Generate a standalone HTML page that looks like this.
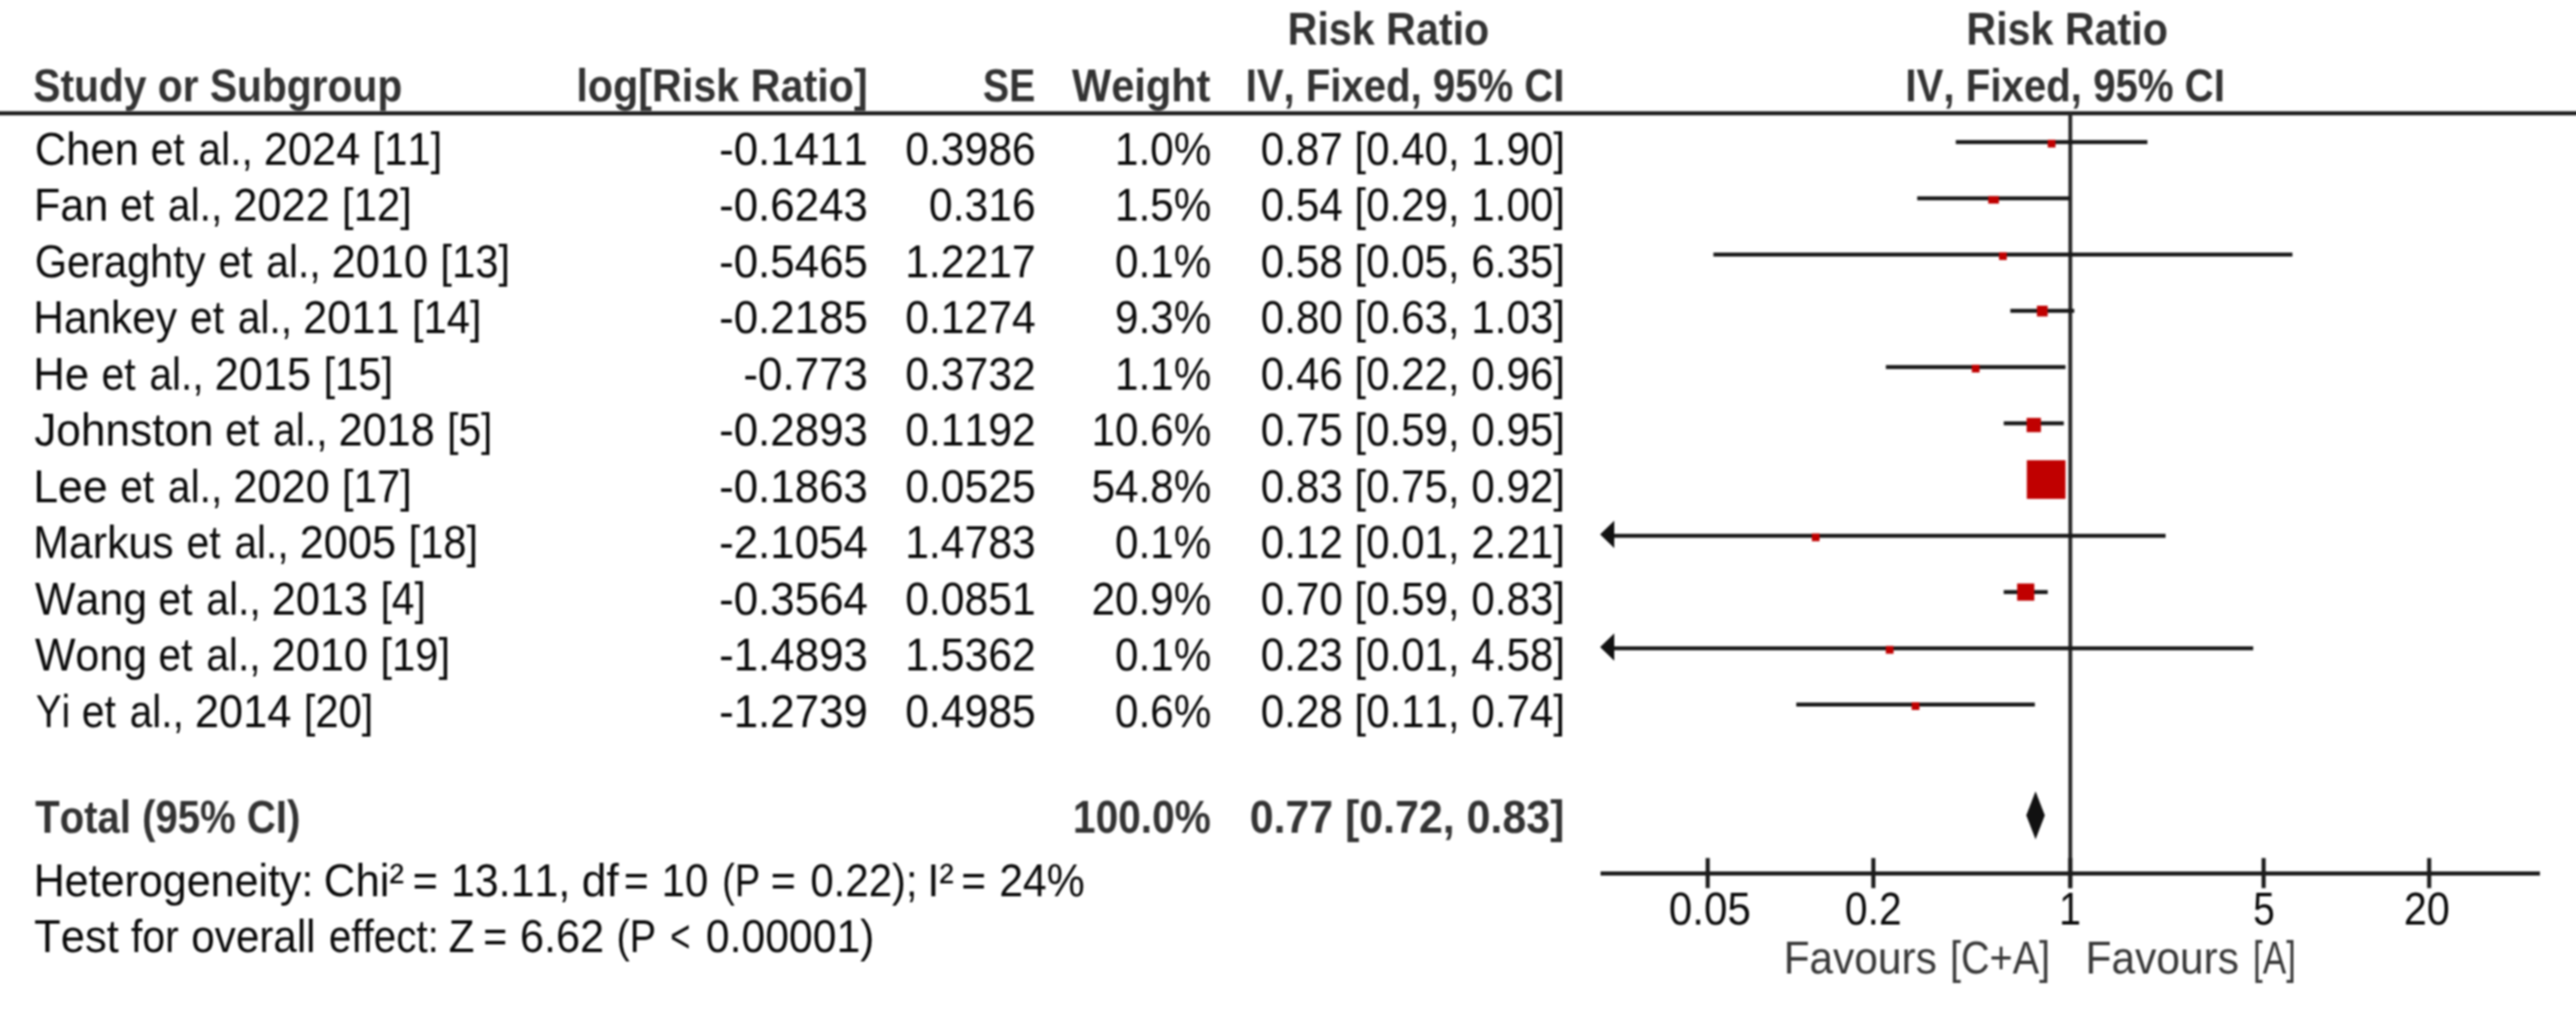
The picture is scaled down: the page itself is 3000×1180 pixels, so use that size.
<!DOCTYPE html>
<html><head><meta charset="utf-8"><title>Forest plot</title>
<style>
html,body{margin:0;padding:0;background:#fff}
#wrap{position:relative;width:3000px;height:1180px;overflow:hidden}
svg{display:block;position:absolute;left:-20px;top:-20px;filter:blur(1.2px)}
text{font-family:"Liberation Sans",sans-serif;white-space:pre;font-kerning:none;font-variant-ligatures:none}
</style></head><body>
<div id="wrap"><svg width="3040" height="1220" viewBox="-20 -20 3040 1220">
<rect x="-20" y="-20" width="3040" height="1220" fill="#ffffff"/>
<g id="gfx">
<rect x="-20.00" y="129.60" width="3040.00" height="4.70" fill="#1c1c1c"/>
<rect x="2408.80" y="132.00" width="4.50" height="902.50" fill="#2a2a2a"/>
<rect x="1864.00" y="1015.10" width="1094.00" height="4.80" fill="#1c1c1c"/>
<rect x="1986.40" y="999.50" width="4.80" height="35.00" fill="#1c1c1c"/>
<rect x="2179.30" y="999.50" width="4.80" height="35.00" fill="#1c1c1c"/>
<rect x="2408.60" y="999.50" width="4.80" height="35.00" fill="#1c1c1c"/>
<rect x="2633.80" y="999.50" width="4.80" height="35.00" fill="#1c1c1c"/>
<rect x="2826.60" y="999.50" width="4.80" height="35.00" fill="#1c1c1c"/>
<rect x="2277.72" y="163.20" width="223.11" height="4.60" fill="#181818"/>
<rect x="2384.77" y="162.80" width="9.00" height="9.00" fill="#c00000"/>
<rect x="2232.78" y="228.72" width="177.83" height="4.60" fill="#181818"/>
<rect x="2315.50" y="228.47" width="12.40" height="8.70" fill="#c00000"/>
<rect x="1995.42" y="294.24" width="674.32" height="4.60" fill="#181818"/>
<rect x="2328.08" y="293.84" width="9.00" height="9.00" fill="#c00000"/>
<rect x="2341.23" y="359.76" width="74.44" height="4.60" fill="#181818"/>
<rect x="2372.19" y="356.11" width="12.50" height="12.50" fill="#c00000"/>
<rect x="2196.31" y="425.28" width="209.18" height="4.60" fill="#181818"/>
<rect x="2296.40" y="424.88" width="9.00" height="9.00" fill="#c00000"/>
<rect x="2333.57" y="490.80" width="69.94" height="4.60" fill="#181818"/>
<rect x="2360.24" y="486.80" width="16.60" height="16.60" fill="#c00000"/>
<rect x="2366.26" y="556.32" width="33.38" height="4.60" fill="#181818"/>
<rect x="2360.45" y="536.12" width="45.00" height="45.00" fill="#c00000"/>
<rect x="1869.70" y="621.84" width="652.37" height="4.60" fill="#181818"/>
<polygon points="1863.5,622.6 1880.0,606.6 1880.0,638.6" fill="#111"/>
<rect x="2110.07" y="621.44" width="9.00" height="9.00" fill="#c00000"/>
<rect x="2333.53" y="687.36" width="51.25" height="4.60" fill="#181818"/>
<rect x="2349.16" y="679.66" width="20.00" height="20.00" fill="#c00000"/>
<rect x="1869.70" y="752.88" width="754.39" height="4.60" fill="#181818"/>
<polygon points="1863.5,753.7 1880.0,737.7 1880.0,769.7" fill="#111"/>
<rect x="2196.23" y="752.48" width="9.00" height="9.00" fill="#c00000"/>
<rect x="2091.92" y="818.40" width="277.87" height="4.60" fill="#181818"/>
<rect x="2226.35" y="818.00" width="9.00" height="9.00" fill="#c00000"/>
<polygon points="2359.8,949.8 2370.6,921.8 2381.4,949.8 2370.6,977.8" fill="#111"/>
</g>
<g id="txt">
<text transform="translate(38.76 118.00) scale(0.8872 1)" font-size="53.5" fill="#333333" font-weight="bold">Study or Subgroup</text>
<text transform="translate(671.19 118.00) scale(0.8988 1)" font-size="53.5" fill="#333333" font-weight="bold">log[Risk Ratio]</text>
<text transform="translate(1144.79 118.00) scale(0.8536 1)" font-size="53.5" fill="#333333" font-weight="bold">SE</text>
<text transform="translate(1248.50 118.00) scale(0.9038 1)" font-size="53.5" fill="#333333" font-weight="bold">Weight</text>
<text transform="translate(1499.60 52.30) scale(0.8974 1)" font-size="53.5" fill="#333333" font-weight="bold">Risk Ratio</text>
<text transform="translate(1450.68 118.00) scale(0.8732 1)" font-size="53.5" fill="#333333" font-weight="bold">IV, Fixed, 95% CI</text>
<text transform="translate(2290.00 52.30) scale(0.8974 1)" font-size="53.5" fill="#333333" font-weight="bold">Risk Ratio</text>
<text transform="translate(2219.07 118.00) scale(0.8754 1)" font-size="53.5" fill="#333333" font-weight="bold">IV, Fixed, 95% CI</text>
<text transform="translate(40.90 970.00) scale(0.8735 1)" font-size="53.5" fill="#333333" font-weight="bold">Total (95% CI)</text>
<text transform="translate(1249.54 970.00) scale(0.8858 1)" font-size="53.5" fill="#333333" font-weight="bold">100.0%</text>
<text transform="translate(1455.44 970.00) scale(0.9334 1)" font-size="53.5" fill="#333333" font-weight="bold">0.77 [0.72, 0.83]</text>
<text transform="translate(39.18 1043.90) scale(0.9281 1)" font-size="54.0" fill="#0a0a0a">Heterogeneity:</text>
<text transform="translate(377.11 1043.90) scale(0.9437 1)" font-size="54.0" fill="#0a0a0a">Chi²</text>
<text transform="translate(480.53 1043.90) scale(0.9370 1)" font-size="54.0" fill="#0a0a0a">=</text>
<text transform="translate(525.28 1043.90) scale(0.9242 1)" font-size="54.0" fill="#0a0a0a">13.11,</text>
<text transform="translate(677.38 1043.90) scale(0.9579 1)" font-size="54.0" fill="#0a0a0a">df</text>
<text transform="translate(726.38 1043.90) scale(0.9185 1)" font-size="54.0" fill="#0a0a0a">=</text>
<text transform="translate(770.55 1043.90) scale(0.9034 1)" font-size="54.0" fill="#0a0a0a">10</text>
<text transform="translate(840.92 1043.90) scale(0.8211 1)" font-size="54.0" fill="#0a0a0a">(P</text>
<text transform="translate(897.44 1043.90) scale(0.9333 1)" font-size="54.0" fill="#0a0a0a">=</text>
<text transform="translate(943.67 1043.90) scale(0.9058 1)" font-size="54.0" fill="#0a0a0a">0.22);</text>
<text transform="translate(1080.08 1043.90) scale(0.9297 1)" font-size="54.0" fill="#0a0a0a">I²</text>
<text transform="translate(1119.58 1043.90) scale(0.9148 1)" font-size="54.0" fill="#0a0a0a">=</text>
<text transform="translate(1163.66 1043.90) scale(0.9227 1)" font-size="54.0" fill="#0a0a0a">24%</text>
<text transform="translate(39.81 1108.80) scale(0.9381 1)" font-size="54.0" fill="#0a0a0a">Test</text>
<text transform="translate(152.40 1108.80) scale(0.8844 1)" font-size="54.0" fill="#0a0a0a">for</text>
<text transform="translate(222.76 1108.80) scale(0.9101 1)" font-size="54.0" fill="#0a0a0a">overall</text>
<text transform="translate(383.03 1108.80) scale(0.8711 1)" font-size="54.0" fill="#0a0a0a">effect:</text>
<text transform="translate(522.56 1108.80) scale(0.9119 1)" font-size="54.0" fill="#0a0a0a">Z</text>
<text transform="translate(562.76 1108.80) scale(0.8852 1)" font-size="54.0" fill="#0a0a0a">=</text>
<text transform="translate(605.43 1108.80) scale(0.9354 1)" font-size="54.0" fill="#0a0a0a">6.62</text>
<text transform="translate(717.93 1108.80) scale(0.8577 1)" font-size="54.0" fill="#0a0a0a">(P</text>
<text transform="translate(780.61 1108.80) scale(0.7481 1)" font-size="54.0" fill="#0a0a0a">&lt;</text>
<text transform="translate(822.05 1108.80) scale(0.9214 1)" font-size="54.0" fill="#0a0a0a">0.00001)</text>
<text transform="translate(1943.47 1076.70) scale(0.9089 1)" font-size="54.0" fill="#0a0a0a">0.05</text>
<text transform="translate(2148.51 1076.70) scale(0.8807 1)" font-size="54.0" fill="#0a0a0a">0.2</text>
<text transform="translate(2624.09 1076.70) scale(0.8373 1)" font-size="54.0" fill="#0a0a0a">5</text>
<text transform="translate(2799.54 1076.70) scale(0.8916 1)" font-size="54.0" fill="#0a0a0a">20</text>
<text transform="translate(2077.14 1133.70) scale(0.9156 1)" font-size="54.0" fill="#383838">Favours</text>
<text transform="translate(2270.92 1133.70) scale(0.8547 1)" font-size="54.0" fill="#383838">[C+A]</text>
<text transform="translate(2428.73 1133.70) scale(0.9167 1)" font-size="54.0" fill="#383838">Favours</text>
<text transform="translate(2623.85 1133.70) scale(0.7568 1)" font-size="54.0" fill="#383838">[A]</text>
<text transform="translate(40.52 191.80) scale(0.9390 1)" font-size="54.0" fill="#0a0a0a">Chen</text>
<text transform="translate(175.42 191.80) scale(0.8798 1)" font-size="54.0" fill="#0a0a0a">et</text>
<text transform="translate(231.12 191.80) scale(0.8792 1)" font-size="54.0" fill="#0a0a0a">al.,</text>
<text transform="translate(433.86 191.80) scale(0.9017 1)" font-size="54.0" fill="#0a0a0a">[11]</text>
<text transform="translate(39.57 257.32) scale(0.9312 1)" font-size="54.0" fill="#0a0a0a">Fan</text>
<text transform="translate(139.92 257.32) scale(0.8798 1)" font-size="54.0" fill="#0a0a0a">et</text>
<text transform="translate(195.62 257.32) scale(0.8792 1)" font-size="54.0" fill="#0a0a0a">al.,</text>
<text transform="translate(398.36 257.32) scale(0.9017 1)" font-size="54.0" fill="#0a0a0a">[12]</text>
<text transform="translate(40.43 322.84) scale(0.8958 1)" font-size="54.0" fill="#0a0a0a">Geraghty</text>
<text transform="translate(254.42 322.84) scale(0.8798 1)" font-size="54.0" fill="#0a0a0a">et</text>
<text transform="translate(310.12 322.84) scale(0.8792 1)" font-size="54.0" fill="#0a0a0a">al.,</text>
<text transform="translate(512.86 322.84) scale(0.9017 1)" font-size="54.0" fill="#0a0a0a">[13]</text>
<text transform="translate(38.84 388.36) scale(0.9140 1)" font-size="54.0" fill="#0a0a0a">Hankey</text>
<text transform="translate(221.22 388.36) scale(0.8798 1)" font-size="54.0" fill="#0a0a0a">et</text>
<text transform="translate(276.92 388.36) scale(0.8792 1)" font-size="54.0" fill="#0a0a0a">al.,</text>
<text transform="translate(479.66 388.36) scale(0.9017 1)" font-size="54.0" fill="#0a0a0a">[14]</text>
<text transform="translate(38.73 453.88) scale(0.9422 1)" font-size="54.0" fill="#0a0a0a">He</text>
<text transform="translate(118.22 453.88) scale(0.8798 1)" font-size="54.0" fill="#0a0a0a">et</text>
<text transform="translate(173.92 453.88) scale(0.8792 1)" font-size="54.0" fill="#0a0a0a">al.,</text>
<text transform="translate(376.66 453.88) scale(0.9017 1)" font-size="54.0" fill="#0a0a0a">[15]</text>
<text transform="translate(39.90 519.40) scale(0.9527 1)" font-size="54.0" fill="#0a0a0a">Johnston</text>
<text transform="translate(262.32 519.40) scale(0.8798 1)" font-size="54.0" fill="#0a0a0a">et</text>
<text transform="translate(318.02 519.40) scale(0.8792 1)" font-size="54.0" fill="#0a0a0a">al.,</text>
<text transform="translate(520.84 519.40) scale(0.8771 1)" font-size="54.0" fill="#0a0a0a">[5]</text>
<text transform="translate(38.63 584.92) scale(0.9643 1)" font-size="54.0" fill="#0a0a0a">Lee</text>
<text transform="translate(139.92 584.92) scale(0.8798 1)" font-size="54.0" fill="#0a0a0a">et</text>
<text transform="translate(195.62 584.92) scale(0.8792 1)" font-size="54.0" fill="#0a0a0a">al.,</text>
<text transform="translate(398.36 584.92) scale(0.9017 1)" font-size="54.0" fill="#0a0a0a">[17]</text>
<text transform="translate(38.80 650.44) scale(0.9233 1)" font-size="54.0" fill="#0a0a0a">Markus</text>
<text transform="translate(217.22 650.44) scale(0.8798 1)" font-size="54.0" fill="#0a0a0a">et</text>
<text transform="translate(272.92 650.44) scale(0.8792 1)" font-size="54.0" fill="#0a0a0a">al.,</text>
<text transform="translate(475.66 650.44) scale(0.9017 1)" font-size="54.0" fill="#0a0a0a">[18]</text>
<text transform="translate(40.70 715.96) scale(0.9266 1)" font-size="54.0" fill="#0a0a0a">Wang</text>
<text transform="translate(184.62 715.96) scale(0.8798 1)" font-size="54.0" fill="#0a0a0a">et</text>
<text transform="translate(240.32 715.96) scale(0.8792 1)" font-size="54.0" fill="#0a0a0a">al.,</text>
<text transform="translate(443.14 715.96) scale(0.8771 1)" font-size="54.0" fill="#0a0a0a">[4]</text>
<text transform="translate(40.70 781.48) scale(0.9259 1)" font-size="54.0" fill="#0a0a0a">Wong</text>
<text transform="translate(184.52 781.48) scale(0.8798 1)" font-size="54.0" fill="#0a0a0a">et</text>
<text transform="translate(240.22 781.48) scale(0.8792 1)" font-size="54.0" fill="#0a0a0a">al.,</text>
<text transform="translate(442.96 781.48) scale(0.9017 1)" font-size="54.0" fill="#0a0a0a">[19]</text>
<text transform="translate(41.70 847.00) scale(0.8324 1)" font-size="54.0" fill="#0a0a0a">Yi</text>
<text transform="translate(95.22 847.00) scale(0.8798 1)" font-size="54.0" fill="#0a0a0a">et</text>
<text transform="translate(150.92 847.00) scale(0.8792 1)" font-size="54.0" fill="#0a0a0a">al.,</text>
<text transform="translate(353.66 847.00) scale(0.9017 1)" font-size="54.0" fill="#0a0a0a">[20]</text>
<text transform="translate(307.24 191.80) scale(0.9341 1)" font-size="54.0" fill="#0a0a0a">2024</text>
<text transform="translate(271.74 257.32) scale(0.9341 1)" font-size="54.0" fill="#0a0a0a">2022</text>
<text transform="translate(386.24 322.84) scale(0.9341 1)" font-size="54.0" fill="#0a0a0a">2010</text>
<text transform="translate(353.04 388.36) scale(0.9341 1)" font-size="54.0" fill="#0a0a0a">2011</text>
<text transform="translate(250.04 453.88) scale(0.9341 1)" font-size="54.0" fill="#0a0a0a">2015</text>
<text transform="translate(394.14 519.40) scale(0.9341 1)" font-size="54.0" fill="#0a0a0a">2018</text>
<text transform="translate(271.74 584.92) scale(0.9341 1)" font-size="54.0" fill="#0a0a0a">2020</text>
<text transform="translate(349.04 650.44) scale(0.9341 1)" font-size="54.0" fill="#0a0a0a">2005</text>
<text transform="translate(316.44 715.96) scale(0.9341 1)" font-size="54.0" fill="#0a0a0a">2013</text>
<text transform="translate(316.34 781.48) scale(0.9341 1)" font-size="54.0" fill="#0a0a0a">2010</text>
<text transform="translate(227.04 847.00) scale(0.9341 1)" font-size="54.0" fill="#0a0a0a">2014</text>
<text transform="translate(837.40 191.80) scale(0.9466 1)" font-size="54.0" fill="#0a0a0a">-0.1411</text>
<text transform="translate(837.40 257.32) scale(0.9466 1)" font-size="54.0" fill="#0a0a0a">-0.6243</text>
<text transform="translate(837.40 322.84) scale(0.9466 1)" font-size="54.0" fill="#0a0a0a">-0.5465</text>
<text transform="translate(837.40 388.36) scale(0.9466 1)" font-size="54.0" fill="#0a0a0a">-0.2185</text>
<text transform="translate(865.83 453.88) scale(0.9466 1)" font-size="54.0" fill="#0a0a0a">-0.773</text>
<text transform="translate(837.40 519.40) scale(0.9466 1)" font-size="54.0" fill="#0a0a0a">-0.2893</text>
<text transform="translate(837.40 584.92) scale(0.9466 1)" font-size="54.0" fill="#0a0a0a">-0.1863</text>
<text transform="translate(837.40 650.44) scale(0.9466 1)" font-size="54.0" fill="#0a0a0a">-2.1054</text>
<text transform="translate(837.40 715.96) scale(0.9466 1)" font-size="54.0" fill="#0a0a0a">-0.3564</text>
<text transform="translate(837.40 781.48) scale(0.9466 1)" font-size="54.0" fill="#0a0a0a">-1.4893</text>
<text transform="translate(837.40 847.00) scale(0.9466 1)" font-size="54.0" fill="#0a0a0a">-1.2739</text>
<text transform="translate(1054.15 191.80) scale(0.9209 1)" font-size="54.0" fill="#0a0a0a">0.3986</text>
<text transform="translate(1081.80 257.32) scale(0.9209 1)" font-size="54.0" fill="#0a0a0a">0.316</text>
<text transform="translate(1054.15 322.84) scale(0.9209 1)" font-size="54.0" fill="#0a0a0a">1.2217</text>
<text transform="translate(1054.15 388.36) scale(0.9209 1)" font-size="54.0" fill="#0a0a0a">0.1274</text>
<text transform="translate(1054.15 453.88) scale(0.9209 1)" font-size="54.0" fill="#0a0a0a">0.3732</text>
<text transform="translate(1054.15 519.40) scale(0.9209 1)" font-size="54.0" fill="#0a0a0a">0.1192</text>
<text transform="translate(1054.15 584.92) scale(0.9209 1)" font-size="54.0" fill="#0a0a0a">0.0525</text>
<text transform="translate(1054.15 650.44) scale(0.9209 1)" font-size="54.0" fill="#0a0a0a">1.4783</text>
<text transform="translate(1054.15 715.96) scale(0.9209 1)" font-size="54.0" fill="#0a0a0a">0.0851</text>
<text transform="translate(1054.15 781.48) scale(0.9209 1)" font-size="54.0" fill="#0a0a0a">1.5362</text>
<text transform="translate(1054.15 847.00) scale(0.9209 1)" font-size="54.0" fill="#0a0a0a">0.4985</text>
<text transform="translate(1298.60 191.80) scale(0.9105 1)" font-size="54.0" fill="#0a0a0a">1.0%</text>
<text transform="translate(1298.60 257.32) scale(0.9105 1)" font-size="54.0" fill="#0a0a0a">1.5%</text>
<text transform="translate(1298.60 322.84) scale(0.9105 1)" font-size="54.0" fill="#0a0a0a">0.1%</text>
<text transform="translate(1298.60 388.36) scale(0.9105 1)" font-size="54.0" fill="#0a0a0a">9.3%</text>
<text transform="translate(1298.60 453.88) scale(0.9105 1)" font-size="54.0" fill="#0a0a0a">1.1%</text>
<text transform="translate(1271.25 519.40) scale(0.9105 1)" font-size="54.0" fill="#0a0a0a">10.6%</text>
<text transform="translate(1271.25 584.92) scale(0.9105 1)" font-size="54.0" fill="#0a0a0a">54.8%</text>
<text transform="translate(1298.60 650.44) scale(0.9105 1)" font-size="54.0" fill="#0a0a0a">0.1%</text>
<text transform="translate(1271.25 715.96) scale(0.9105 1)" font-size="54.0" fill="#0a0a0a">20.9%</text>
<text transform="translate(1298.60 781.48) scale(0.9105 1)" font-size="54.0" fill="#0a0a0a">0.1%</text>
<text transform="translate(1298.60 847.00) scale(0.9105 1)" font-size="54.0" fill="#0a0a0a">0.6%</text>
<text transform="translate(1468.27 191.80) scale(0.9081 1)" font-size="54.0" fill="#0a0a0a">0.87 [0.40, 1.90]</text>
<text transform="translate(1468.27 257.32) scale(0.9081 1)" font-size="54.0" fill="#0a0a0a">0.54 [0.29, 1.00]</text>
<text transform="translate(1468.27 322.84) scale(0.9081 1)" font-size="54.0" fill="#0a0a0a">0.58 [0.05, 6.35]</text>
<text transform="translate(1468.27 388.36) scale(0.9081 1)" font-size="54.0" fill="#0a0a0a">0.80 [0.63, 1.03]</text>
<text transform="translate(1468.27 453.88) scale(0.9081 1)" font-size="54.0" fill="#0a0a0a">0.46 [0.22, 0.96]</text>
<text transform="translate(1468.27 519.40) scale(0.9081 1)" font-size="54.0" fill="#0a0a0a">0.75 [0.59, 0.95]</text>
<text transform="translate(1468.27 584.92) scale(0.9081 1)" font-size="54.0" fill="#0a0a0a">0.83 [0.75, 0.92]</text>
<text transform="translate(1468.27 650.44) scale(0.9081 1)" font-size="54.0" fill="#0a0a0a">0.12 [0.01, 2.21]</text>
<text transform="translate(1468.27 715.96) scale(0.9081 1)" font-size="54.0" fill="#0a0a0a">0.70 [0.59, 0.83]</text>
<text transform="translate(1468.27 781.48) scale(0.9081 1)" font-size="54.0" fill="#0a0a0a">0.23 [0.01, 4.58]</text>
<text transform="translate(1468.27 847.00) scale(0.9081 1)" font-size="54.0" fill="#0a0a0a">0.28 [0.11, 0.74]</text>
<text transform="translate(2398.00 1076.70) scale(0.8500 1)" font-size="54.0" fill="#0a0a0a">1</text>
</g>
</svg></div>
</body></html>
